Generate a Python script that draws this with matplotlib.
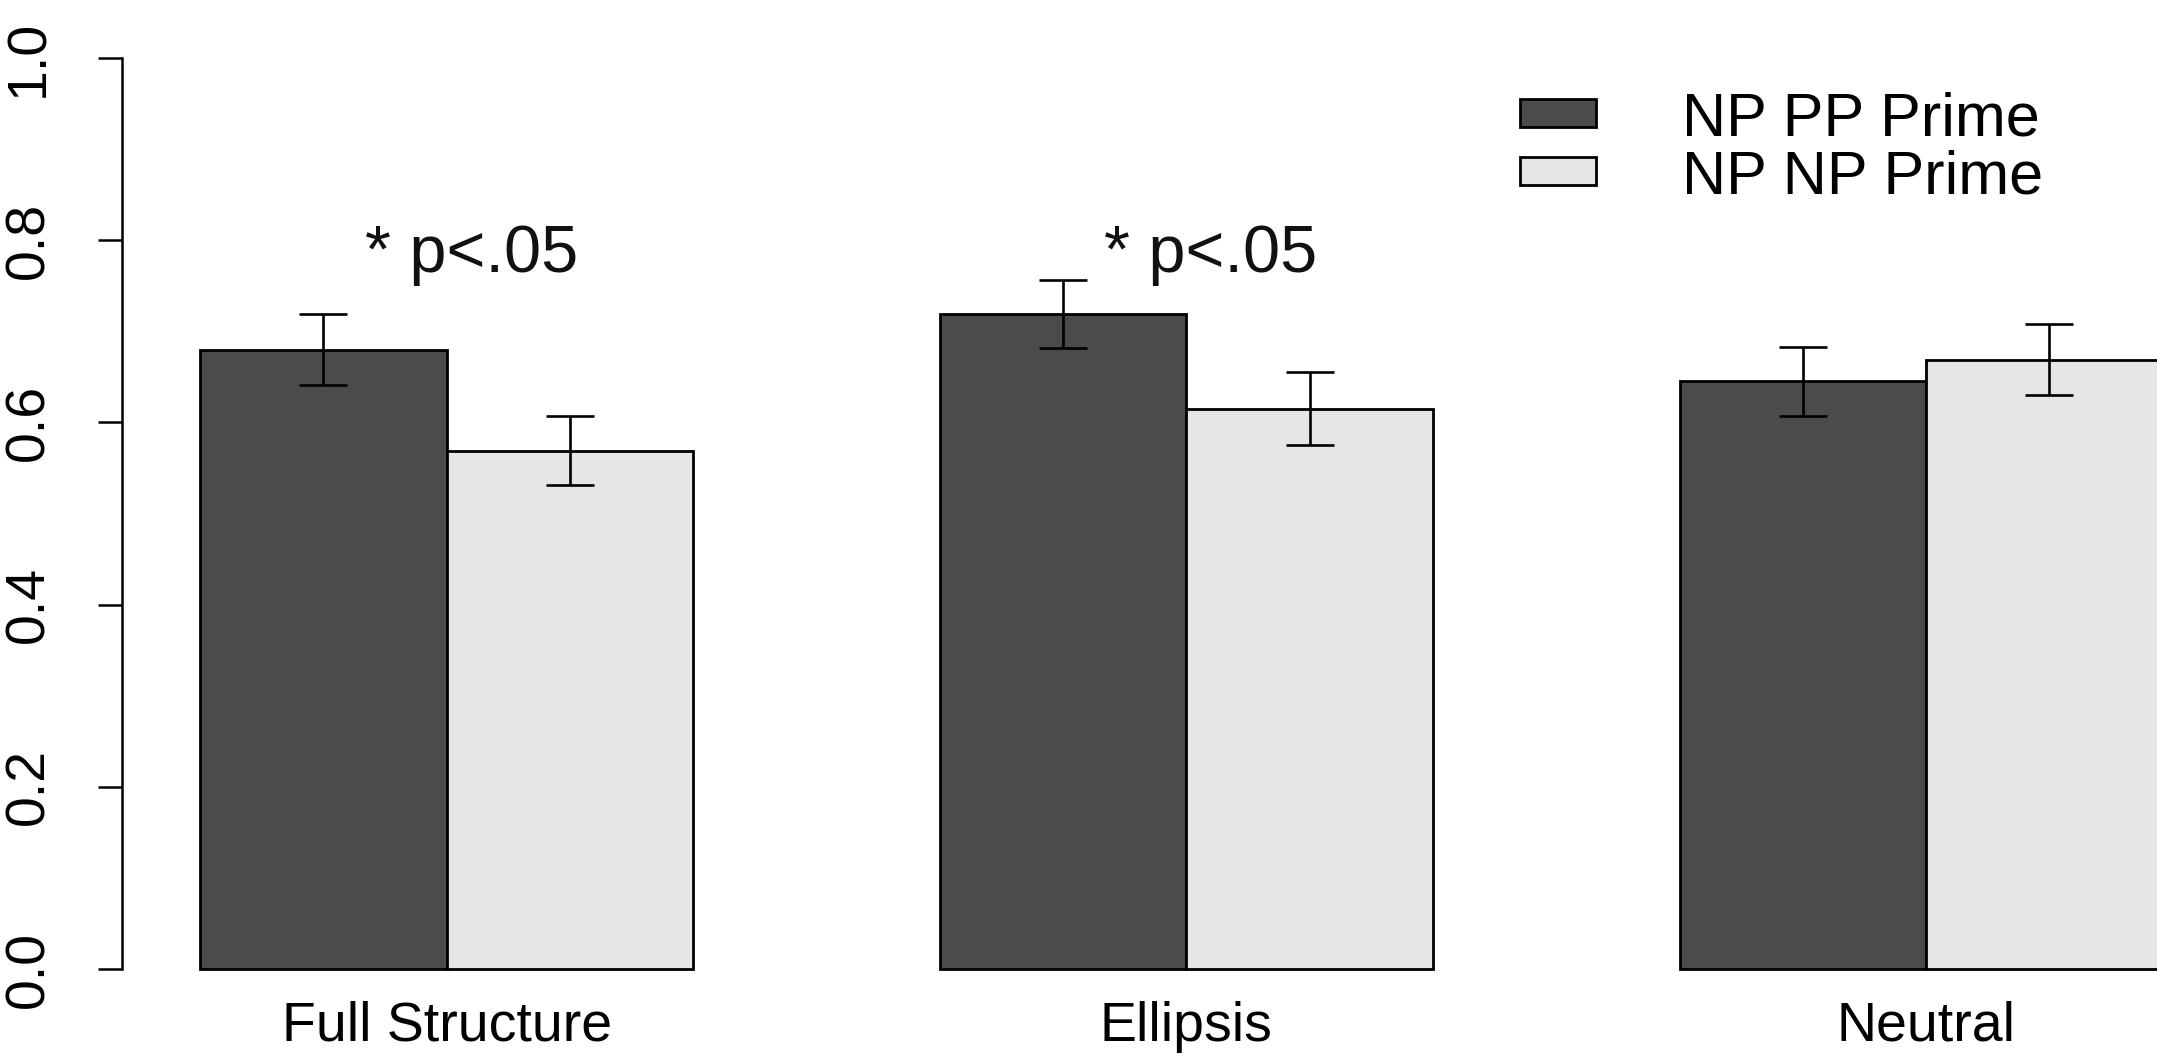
import matplotlib
matplotlib.use("Agg")
import matplotlib.pyplot as plt
from matplotlib.patches import Patch
import numpy as np

plt.rcParams['font.family'] = ['Liberation Sans', 'DejaVu Sans']

categories = ["Full Structure", "Ellipsis", "Neutral"]
series_names = ["NP PP Prime", "NP NP Prime"]
np_pp_mean = [0.680, 0.719, 0.645]
np_pp_se = [0.039, 0.037, 0.038]
np_np_mean = [0.569, 0.615, 0.669]
np_np_se = [0.038, 0.040, 0.039]
sig_groups = [0, 1]
sig_label = "* p<.05"
sig_y = 0.765
yticks = [0.0, 0.2, 0.4, 0.6, 0.8, 1.0]

W, H = 2157, 1060
fig = plt.figure(figsize=(W / 100, H / 100), dpi=100)
bottom_frac = (H - 969) / H
ax = fig.add_axes([0, bottom_frac, 1, 1 - bottom_frac])
ax.set_xlim(0.189, 8.936)
ax.set_ylim(0, 969 / 911)

dark = "#4b4b4b"
light = "#e6e6e6"
n = len(categories)
gidx = np.arange(n)
x_dark = 1 + gidx * 3 + 0.5
x_light = 1 + gidx * 3 + 1.5

err_kw = dict(elinewidth=1.9, capthick=1.9, ecolor="black")
ax.bar(x_dark, np_pp_mean, width=1.0, color=dark, edgecolor="black",
       linewidth=2.0, yerr=np_pp_se, capsize=17, error_kw=err_kw, clip_on=False)
ax.bar(x_light, np_np_mean, width=1.0, color=light, edgecolor="black",
       linewidth=2.0, yerr=np_np_se, capsize=17, error_kw=err_kw, clip_on=False)

centers = 1 + gidx * 3 + 1.0
for g in sig_groups:
    ax.text(centers[g] + 0.1, sig_y, sig_label, fontsize=48, ha="center",
            va="baseline", color="#111111")

ax.set_xticks(centers)
ax.set_xticklabels(categories, fontsize=40)
ax.tick_params(axis="x", length=0, pad=23)

for s in ["top", "right", "bottom"]:
    ax.spines[s].set_visible(False)
ax.spines["left"].set_position(("data", 0.684))
ax.spines["left"].set_bounds(0, 1)
ax.spines["left"].set_linewidth(1.8)
ax.set_yticks(yticks)
ax.set_yticklabels([f"{v:.1f}" for v in yticks], fontsize=40, rotation=90,
                   va="center")
ax.tick_params(axis="y", length=17, width=1.8, pad=31)

handles = [Patch(facecolor=dark, edgecolor="black", linewidth=2.0),
           Patch(facecolor=light, edgecolor="black", linewidth=2.0)]
fig.legend(handles, series_names, loc="upper left",
           bbox_to_anchor=(1520 / W, 1 - 91 / H), frameon=False, fontsize=44,
           handlelength=1.25, handleheight=0.32, handletextpad=1.4,
           labelspacing=0.02, borderpad=0, borderaxespad=0)

fig.savefig("out.png", dpi=100)
